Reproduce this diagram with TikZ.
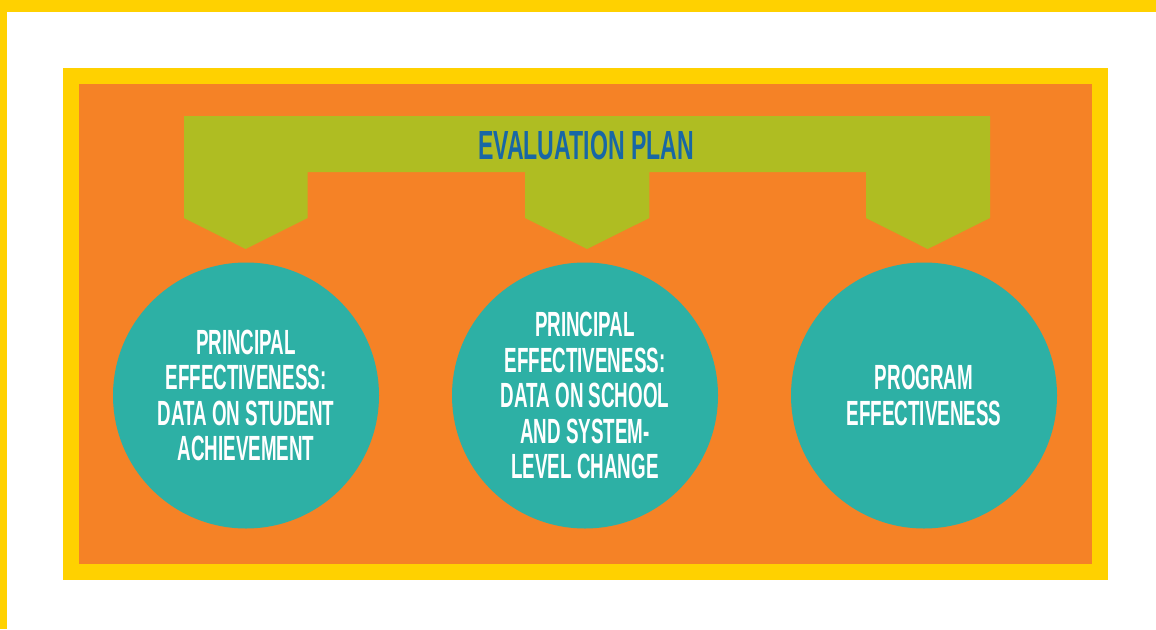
\documentclass[tikz,border=0pt]{standalone}
\usepackage{fontspec}
\newfontfamily\condfont[FakeStretch=0.537]{Liberation Sans Bold}
\newfontfamily\titlefont[FakeStretch=0.567]{Liberation Sans Bold}
\definecolor{yellowc}{HTML}{FFD100}
\definecolor{orangec}{HTML}{F58226}
\definecolor{limec}{HTML}{AFBD22}
\definecolor{tealc}{HTML}{2DB0A5}
\definecolor{blueclr}{HTML}{1867A5}
\tikzset{
  circ/.style={circle, fill=tealc, minimum size=266pt, inner sep=0pt, align=center, text=white,
    font=\condfont\fontsize{35}{35.5}\selectfont},
  titletext/.style={text=blueclr, font=\titlefont\fontsize{40.7}{42}\selectfont, inner sep=0pt}
}
\begin{document}
\begin{tikzpicture}[x=1pt, y=-1pt]
\useasboundingbox (0,0) rectangle (1156,629);
\fill[fill=white] (0,0) rectangle (1156,629);
\fill[fill=yellowc] (0,0) rectangle (1156,12);
\fill[fill=yellowc] (0,0) rectangle (7,629);
\fill[fill=yellowc] (63,68) rectangle (1108,580);
\fill[fill=orangec] (79,84) rectangle (1092,564);
\fill[fill=limec] (184,116) -- (990,116) -- (990,218) -- (927.7,249) -- (866,218) -- (866,172)
  -- (649.3,172) -- (649.3,218) -- (587,249) -- (525,218) -- (525,172)
  -- (307.7,172) -- (307.7,218) -- (245.7,249) -- (184,218) -- cycle;
\node[titletext, anchor=base] (title) at (586,159) {EVALUATION PLAN};
\node[circ] (c1) at (246,395.5) {PRINCIPAL\\EFFECTIVENESS:\\DATA ON STUDENT\\ACHIEVEMENT};
\node[circ] (c2) at (585,395.5) {PRINCIPAL\\EFFECTIVENESS:\\DATA ON SCHOOL\\AND SYSTEM-\\LEVEL CHANGE};
\node[circ] (c3) at (924,395.5) {PROGRAM\\EFFECTIVENESS};
\end{tikzpicture}
\end{document}
